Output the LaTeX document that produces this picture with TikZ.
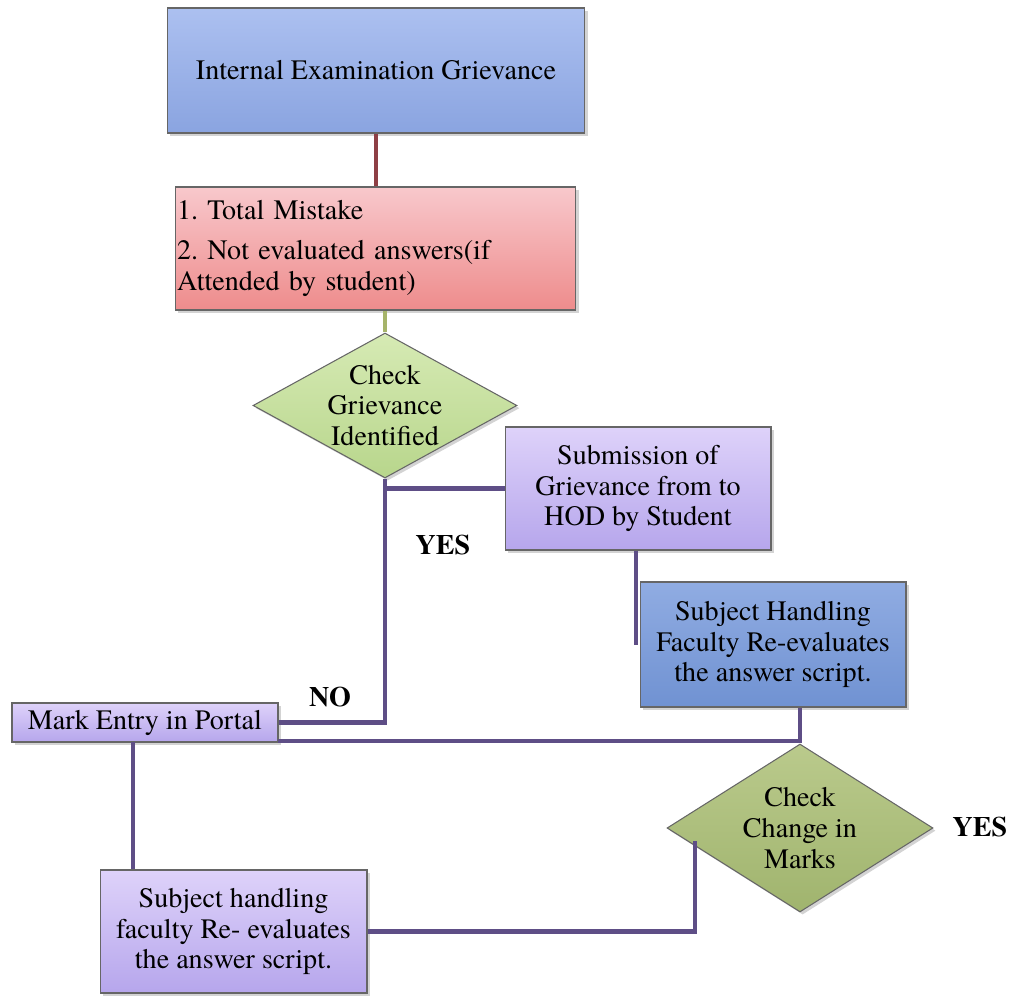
\documentclass[tikz,border=0pt]{standalone}
\usepackage{fontspec}
\setmainfont{texgyretermes}[Extension=.otf, UprightFont=*-regular, BoldFont=*-bold, ItalicFont=*-italic, BoldItalicFont=*-bolditalic]
\usetikzlibrary{shapes.geometric,shadows}
\frenchspacing

\definecolor{linkpurple}{HTML}{5E4E86}
\definecolor{linkred}{HTML}{8E3F45}
\definecolor{linkgreen}{HTML}{A6B46A}
\definecolor{bluetop}{HTML}{ACC0F0}
\definecolor{bluebot}{HTML}{8AA4E0}
\definecolor{redtop}{HTML}{F8C8CC}
\definecolor{redbot}{HTML}{EE8C8C}
\definecolor{lilactop}{HTML}{DED2FA}
\definecolor{lilacbot}{HTML}{B6A6EC}
\definecolor{steeltop}{HTML}{90ACE2}
\definecolor{steelbot}{HTML}{7092D2}
\definecolor{greentop}{HTML}{D6EAB4}
\definecolor{greenbot}{HTML}{B8D68C}
\definecolor{olivetop}{HTML}{BACA8C}
\definecolor{olivebot}{HTML}{A0B46E}

\tikzset{
  basebox/.style={draw=black!60, line width=0.6pt, inner sep=2pt, align=center,
    font=\fontsize{16}{17.5}\selectfont,
    drop shadow={opacity=0.35, shadow xshift=1.5pt, shadow yshift=-1.5pt}},
  bluebox/.style={basebox, rectangle, top color=bluetop, bottom color=bluebot},
  redbox/.style={basebox, rectangle, top color=redtop, bottom color=redbot},
  lilacbox/.style={basebox, rectangle, top color=lilactop, bottom color=lilacbot},
  steelbox/.style={basebox, rectangle, top color=steeltop, bottom color=steelbot},
  greendiam/.style={basebox, diamond, inner sep=0pt, top color=greentop, bottom color=greenbot},
  olivediam/.style={basebox, diamond, inner sep=0pt, top color=olivetop, bottom color=olivebot},
  link/.style={draw=linkpurple, line width=2.6pt},
  answer/.style={font=\fontsize{16}{17.5}\selectfont\bfseries}
}

\begin{document}
\begin{tikzpicture}[x=0.02cm, y=-0.02cm]

    % Fix the page to the size of the reference
    \useasboundingbox (0,0) rectangle (1018,996);

    % Draw the boxes and the decisions
    \node[bluebox, minimum width=8.36cm, minimum height=2.5cm] (grv) at (376,70.5) {Internal Examination Grievance};
    \node[redbox, minimum width=8.02cm, minimum height=2.46cm, text width=7.94cm, align=left, inner sep=1pt] (mist) at (375.5,248.5)
      {1. Total Mistake\\[5pt]2. Not evaluated answers(if\\Attended by student)};
    \node[greendiam, minimum width=5.28cm, minimum height=2.9cm, aspect=1.82] (chkg) at (385,405.5) {Check\\Grievance\\Identified};
    \node[lilacbox, minimum width=5.32cm, minimum height=2.46cm] (subm) at (638,488.5) {Submission of\\Grievance from to\\HOD by Student};
    \node[steelbox, minimum width=5.32cm, minimum height=2.5cm] (shf) at (773,644.5) {Subject Handling\\Faculty Re-evaluates\\the answer script.};
    \node[lilacbox, minimum width=5.32cm, minimum height=0.78cm] (mark) at (145,722.5) {Mark Entry in Portal};
    \node[olivediam, minimum width=5.32cm, minimum height=3.36cm, aspect=1.58] (chkm) at (800,828) {Check\\Change in\\Marks};
    \node[lilacbox, minimum width=5.34cm, minimum height=2.46cm] (reev) at (233.5,931.5) {Subject handling\\faculty Re- evaluates\\the answer script.};

    % Free ends of some connectors
    \coordinate (subdrop) at (636,645);
    \coordinate (markdrop) at (133,742);
    \coordinate (chkfoot) at (695,841);
    \coordinate (joinline) at (278,741);

    % Draw the connectors
    \draw[link, draw=linkred] (grv.south) -- (mist.north -| grv.south);
    \draw[link, draw=linkgreen] (chkg.north) -- (chkg.north |- mist.south);
    \draw[link] (chkg.south) |- (mark.east);
    \draw[link] (chkg.south |- subm.west) -- (subm.west);
    \draw[link] (subdrop |- subm.south) -- (subdrop);
    \draw[link] (chkm.north |- shf.south) -- (chkm.north);
    \draw[link] (joinline) -- (joinline -| chkm.north);
    \draw[link] (markdrop) -- (markdrop |- reev.north);
    \draw[link] (reev.east) -| (chkfoot);

    % Add the answers
    \node[answer] (yes1) at (443,545) {YES};
    \node[answer] (no1) at (330,697) {NO};
    \node[answer] (yes2) at (980,827) {YES};

\end{tikzpicture}
\end{document}
